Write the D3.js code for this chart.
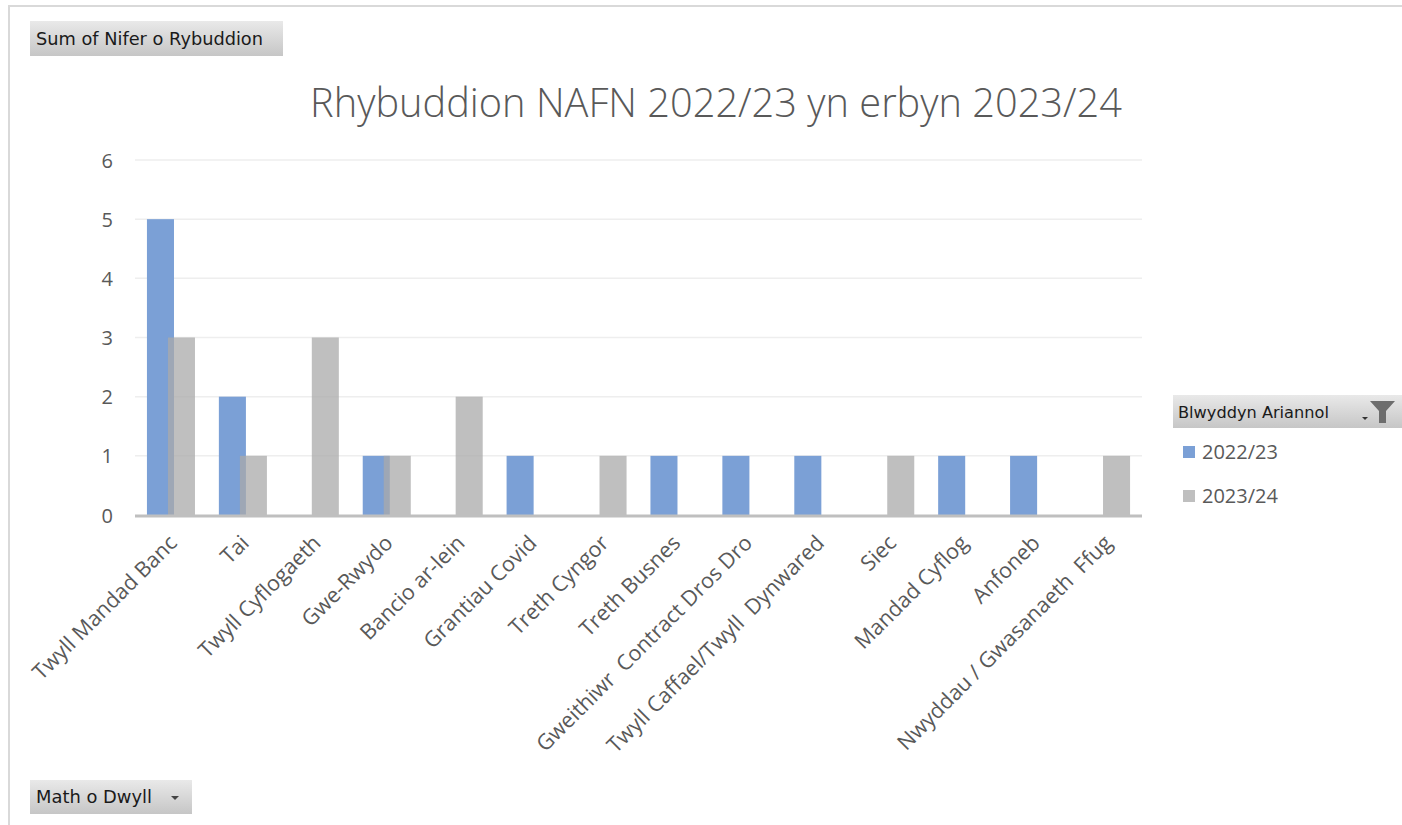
<!DOCTYPE html>
<html>
<head>
<meta charset="utf-8">
<script src="https://cdn.jsdelivr.net/npm/d3@7"></script>
<style>
  html, body { margin: 0; padding: 0; background: #fff; }
  svg { display: block; }
  text { white-space: pre; }
</style>
</head>
<body>
<svg id="chart" width="1402" height="825"></svg>
<script>
// ---- data ----
const categories = [
  "Twyll Mandad Banc", "Tai", "Twyll Cyflogaeth", "Gwe-Rwydo", "Bancio ar-lein",
  "Grantiau Covid", "Treth Cyngor", "Treth Busnes", "Gweithiwr  Contract Dros Dro",
  "Twyll Caffael/Twyll  Dynwared", "Siec", "Mandad Cyflog", "Anfoneb",
  "Nwyddau / Gwasanaeth  Ffug"
];
const seriesNames = ["2022/23", "2023/24"];
const values2022 = [5, 2, 0, 1, 0, 1, 0, 1, 1, 1, 0, 1, 1, 0];
const values2023 = [3, 1, 3, 1, 2, 0, 1, 0, 0, 0, 1, 0, 0, 1];
const yTicks = [0, 1, 2, 3, 4, 5, 6];
const titleText = "Rhybuddion NAFN 2022/23 yn erbyn 2023/24";
const valueFieldLabel = "Sum of Nifer o Rybuddion";
const axisFieldLabel = "Math o Dwyll";
const legendFieldLabel = "Blwyddyn Ariannol";

// ---- layout / style ----
const colors = ["#7ba0d6", "#aaaaaa"];
const opac = [1, 0.75];
const svg = d3.select("#chart");
const plot = { left: 135, right: 1142, top: 160, bottom: 515 };

function fit(sel, w) {
  const fs = parseFloat(sel.style("font-size"));
  const l = sel.node().getComputedTextLength();
  sel.style("font-size", (fs * w / l) + "px");
}

// outer frame
svg.append("rect").attr("x", 9).attr("y", 6).attr("width", 1500).attr("height", 900)
  .attr("fill", "none").attr("stroke", "#d9d9d9").attr("stroke-width", 2);

const defs = svg.append("defs");
const grad = defs.append("linearGradient").attr("id", "btn").attr("x1", 0).attr("y1", 0).attr("x2", 0).attr("y2", 1);
grad.append("stop").attr("offset", "0%").attr("stop-color", "#e9e9e9");
grad.append("stop").attr("offset", "100%").attr("stop-color", "#c6c6c6");

function button(x, y, w, h, label, textW) {
  const g = svg.append("g");
  g.append("rect").attr("x", x).attr("y", y).attr("width", w).attr("height", h).attr("fill", "url(#btn)");
  const t = g.append("text").attr("x", x + 6).attr("y", y + h / 2 + 6)
    .attr("font-family", "'DejaVu Sans', sans-serif").style("font-size", "17px")
    .attr("fill", "#1a1a1a").text(label);
  fit(t, textW);
  return g;
}

// pivot buttons
button(30, 21, 253, 35, valueFieldLabel, 227);
const mb = button(30, 780, 162, 34, axisFieldLabel, 116);
mb.append("path").attr("d", "M171,796 l8,0 l-4,4 z").attr("fill", "#444");

// title
const title = svg.append("text").attr("x", 716).attr("y", 117).attr("text-anchor", "middle")
  .attr("font-family", "'Open Sans', sans-serif").attr("font-weight", 300)
  .style("font-size", "32px").attr("fill", "#595959").text(titleText);
fit(title, 812);

// scales
const x = d3.scaleBand().domain(categories).range([plot.left, plot.right]).padding(0);
const y = d3.scaleLinear().domain([0, 6]).range([plot.bottom, plot.top]);
const bw = x.bandwidth();
const barW = bw * 0.376;
const offsets = [-bw * 0.334, -bw * 0.042];

// gridlines
svg.append("g").selectAll("line").data(yTicks.filter(d => d > 0)).join("line")
  .attr("x1", plot.left).attr("x2", plot.right)
  .attr("y1", d => y(d)).attr("y2", d => y(d))
  .attr("stroke", "#eeeeee").attr("stroke-width", 1.5);

// y axis labels
const yAxis = d3.axisLeft(y).tickValues(yTicks).tickSize(0).tickPadding(0).tickFormat(d3.format("d"));
const yg = svg.append("g").attr("transform", `translate(${plot.left - 22},0)`).call(yAxis);
yg.select(".domain").remove();
yg.selectAll("text").attr("font-family", "'Open Sans', sans-serif").style("font-size", "20px")
  .attr("fill", "#595959").attr("dy", "0.35em");

// bars
const seriesVals = [values2022, values2023];
seriesVals.forEach((vals, s) => {
  svg.append("g").selectAll("rect").data(vals.map((v, i) => ({ c: categories[i], v }))).join("rect")
    .attr("x", d => x(d.c) + bw / 2 + offsets[s])
    .attr("width", barW)
    .attr("y", d => y(d.v))
    .attr("height", d => y(0) - y(d.v))
    .attr("fill", colors[s]).attr("fill-opacity", opac[s]);
});

// x axis baseline
svg.append("line").attr("x1", plot.left).attr("x2", plot.right)
  .attr("y1", y(0) + 1).attr("y2", y(0) + 1).attr("stroke", "#bfbfbf").attr("stroke-width", 3);

// x labels
const xAxis = d3.axisBottom(x).tickSize(0).tickPadding(0);
const xg = svg.append("g").attr("transform", `translate(0,${plot.bottom + 24})`).call(xAxis);
xg.select(".domain").remove();
xg.selectAll("text")
  .attr("font-family", "'Open Sans', sans-serif").style("font-size", "21.5px")
  .attr("fill", "#595959")
  .attr("text-anchor", "end")
  .attr("dy", "0.35em")
  .attr("transform", "translate(2,0) rotate(-45)");

// legend
const lg = svg.append("g");
lg.append("rect").attr("x", 1173).attr("y", 395).attr("width", 240).attr("height", 33).attr("fill", "url(#btn)");
const lt = lg.append("text").attr("x", 1178).attr("y", 418).attr("font-family", "'DejaVu Sans', sans-serif")
  .style("font-size", "17px").attr("fill", "#1a1a1a").text(legendFieldLabel);
fit(lt, 151);
lg.append("path").attr("d", "M1362,417 l6,0 l-3,3 z").attr("fill", "#333");
lg.append("path").attr("d", "M1370,401 L1395,401 L1386,411 L1386,423 L1379,423 L1379,411 Z").attr("fill", "#6d6d6d");

seriesNames.forEach((n, i) => {
  const yy = 446 + i * 44;
  lg.append("rect").attr("x", 1183).attr("y", yy).attr("width", 12).attr("height", 12)
    .attr("fill", colors[i]).attr("fill-opacity", opac[i]);
  lg.append("text").attr("x", 1202).attr("y", yy + 13).attr("font-family", "'Open Sans', sans-serif")
    .style("font-size", "20px").attr("fill", "#595959").text(n);
});
</script>
</body>
</html>
